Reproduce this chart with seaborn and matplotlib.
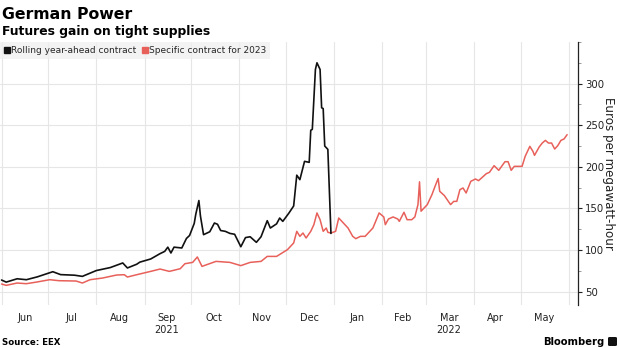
import matplotlib
matplotlib.use("Agg")
import matplotlib.pyplot as plt
import matplotlib.dates as mdates
from matplotlib.ticker import MultipleLocator, NullFormatter
from matplotlib.lines import Line2D
from matplotlib.patches import FancyBboxPatch
import seaborn as sns
import pandas as pd

# ---- data ----
rolling_dates = ["2021-06-01", "2021-06-04", "2021-06-11", "2021-06-17", "2021-06-24",
                 "2021-07-04", "2021-07-09", "2021-07-18", "2021-07-23", "2021-08-01",
                 "2021-08-10", "2021-08-18", "2021-08-21", "2021-08-27", "2021-08-29",
                 "2021-09-05", "2021-09-11", "2021-09-14", "2021-09-16", "2021-09-18",
                 "2021-09-20", "2021-09-25", "2021-09-28", "2021-09-30", "2021-10-03",
                 "2021-10-04", "2021-10-06", "2021-10-07", "2021-10-09", "2021-10-13",
                 "2021-10-16", "2021-10-18", "2021-10-20", "2021-10-23", "2021-10-26",
                 "2021-10-29", "2021-11-02", "2021-11-05", "2021-11-08", "2021-11-12",
                 "2021-11-15", "2021-11-19", "2021-11-21", "2021-11-25", "2021-11-27",
                 "2021-11-29", "2021-12-03", "2021-12-06", "2021-12-08", "2021-12-10",
                 "2021-12-13", "2021-12-16", "2021-12-17", "2021-12-18", "2021-12-20",
                 "2021-12-21", "2021-12-23", "2021-12-24", "2021-12-25", "2021-12-26",
                 "2021-12-28", "2021-12-30"]
rolling_values = [64, 61.5, 65.5, 64.4, 67.8,
                  74, 70.5, 69.8, 68.4, 75.4,
                  79, 84.5, 78.5, 83, 85.5,
                  89.3, 95.7, 98.4, 103.5, 96.5,
                  103.5, 102.5, 114, 117.5, 132,
                  143, 159.5, 141, 118.5, 122,
                  132.5, 131, 123.5, 122.5, 120,
                  119, 104, 115, 116, 109.3,
                  116, 135.3, 126.5, 131.5, 138.5,
                  134.5, 144.6, 153, 190, 184.6,
                  206.6, 205.4, 244, 245, 317,
                  325, 317, 271, 270, 225,
                  221, 120]

c2023_dates = ["2021-06-01", "2021-06-04", "2021-06-11", "2021-06-17", "2021-06-24",
               "2021-07-02", "2021-07-08", "2021-07-19", "2021-07-23", "2021-07-28",
               "2021-08-05", "2021-08-14", "2021-08-19", "2021-08-21", "2021-08-27",
               "2021-09-05", "2021-09-11", "2021-09-17", "2021-09-24", "2021-09-27",
               "2021-10-02", "2021-10-05", "2021-10-08", "2021-10-17", "2021-10-26",
               "2021-11-02", "2021-11-08", "2021-11-15", "2021-11-19", "2021-11-25",
               "2021-12-02", "2021-12-06", "2021-12-08", "2021-12-10", "2021-12-12",
               "2021-12-14", "2021-12-17", "2021-12-19", "2021-12-21", "2021-12-23",
               "2021-12-25", "2021-12-27", "2021-12-28", "2021-12-30", "2022-01-02",
               "2022-01-04", "2022-01-06", "2022-01-10", "2022-01-13", "2022-01-15",
               "2022-01-18", "2022-01-21", "2022-01-26", "2022-01-30", "2022-02-02",
               "2022-02-03", "2022-02-05", "2022-02-08", "2022-02-11", "2022-02-12",
               "2022-02-15", "2022-02-17", "2022-02-20", "2022-02-22", "2022-02-24",
               "2022-02-25", "2022-02-26", "2022-03-02", "2022-03-05", "2022-03-07",
               "2022-03-09", "2022-03-10", "2022-03-13", "2022-03-15", "2022-03-17",
               "2022-03-19", "2022-03-21", "2022-03-23", "2022-03-25", "2022-03-27",
               "2022-03-30", "2022-04-02", "2022-04-04", "2022-04-09", "2022-04-11",
               "2022-04-14", "2022-04-17", "2022-04-21", "2022-04-23", "2022-04-25",
               "2022-04-27", "2022-05-02", "2022-05-04", "2022-05-07", "2022-05-09",
               "2022-05-10", "2022-05-13", "2022-05-15", "2022-05-17", "2022-05-19",
               "2022-05-21", "2022-05-23", "2022-05-25", "2022-05-27", "2022-05-29",
               "2022-05-31"]
c2023_values = [59.2, 57.6, 60.4, 59.6, 61.7,
                64.4, 63.2, 62.8, 60.4, 64.4,
                66.4, 70, 70.4, 67.6, 70.4,
                74.4, 77.2, 74.4, 77.6, 83.6,
                85.2, 91.7, 80.4, 86.4, 85.2,
                81.3, 85.2, 86.4, 92.4, 92.4,
                100.5, 108.5, 122.5, 116.5, 120.5,
                114.5, 122.5, 130.5, 144.6, 136.5,
                122.5, 126.5, 121.3, 120.5, 122.5,
                138.5, 134.5, 126.5, 116.5, 113.7,
                116.5, 116.5, 126.5, 144.6, 139.8,
                130.5, 137.3, 139.8, 137.3, 134.5,
                145.4, 136.5, 136.5, 139.8, 154.6,
                182, 146.7, 154.6, 166.6, 176.6,
                186, 170.6, 165.5, 160, 154.6,
                158.5, 158.5, 172.6, 174.6, 168.6,
                182.6, 185.4, 183.4, 191.8, 193.4,
                201.4, 195.8, 206.2, 206.2, 195.8,
                200.6, 200.6, 212.6, 224.6, 218.6,
                213.8, 223.8, 228.6, 231.8, 228.6,
                228.6, 221.4, 225.5, 231.8, 233.5,
                238.7]

series_names = ["Rolling year-ahead contract", "Specific contract for 2023"]
month_label_dates = ["2021-06-16", "2021-07-16", "2021-08-16", "2021-09-15", "2021-10-16",
                     "2021-11-15", "2021-12-16", "2022-01-16", "2022-02-14", "2022-03-16",
                     "2022-04-15", "2022-05-16"]
month_labels = ["Jun", "Jul", "Aug", "Sep\n2021", "Oct", "Nov", "Dec", "Jan", "Feb",
                "Mar\n2022", "Apr", "May"]
y_ticks = [50, 100, 150, 200, 250, 300]

BLACK = "#111111"
RED = "#e8605a"
GRID = "#e6e6e6"

sns.set_theme(style="white")
plt.rcParams["font.family"] = ["DejaVu Sans"]

fig = plt.figure(figsize=(6.2, 3.48), dpi=100)
ax = fig.add_axes([0.0, 1 - 305 / 348, 578 / 620, (305 - 42) / 348])

df_roll = pd.DataFrame({"date": pd.to_datetime(rolling_dates), "value": rolling_values})
df_2023 = pd.DataFrame({"date": pd.to_datetime(c2023_dates), "value": c2023_values})

sns.lineplot(data=df_2023, x="date", y="value", ax=ax, color=RED, linewidth=1.1, zorder=3)
sns.lineplot(data=df_roll, x="date", y="value", ax=ax, color=BLACK, linewidth=1.2, zorder=4)

ax.set_xlim(pd.Timestamp("2021-05-31"), pd.Timestamp("2022-06-07"))
ax.set_ylim(34, 350)

# x axis: gridlines at month starts, labels mid-month
ax.xaxis.set_major_locator(mdates.MonthLocator())
ax.xaxis.set_major_formatter(NullFormatter())
ax.set_xticks(pd.to_datetime(month_label_dates), minor=True)
ax.set_xticklabels(month_labels, minor=True, fontsize=7, color="#222222")
ax.tick_params(axis="x", which="both", length=0, pad=6)
ax.set_xlabel("")

# y axis on the right
ax.yaxis.tick_right()
ax.yaxis.set_label_position("right")
ax.set_yticks(y_ticks)
ax.set_yticklabels([str(v) for v in y_ticks], fontsize=7.3, color="#222222")
ax.yaxis.set_minor_locator(MultipleLocator(25))
ax.tick_params(axis="y", which="major", length=3, width=0.8, color="#222222", pad=2,
               right=True, left=False)
ax.tick_params(axis="y", which="minor", length=2, width=0.6, color="#888888",
               right=True, left=False)
ax.set_ylabel("Euros per megawatt-hour", rotation=270, fontsize=8.6, labelpad=8,
              color="#222222")

ax.grid(axis="x", which="major", color=GRID, linewidth=0.8)
ax.grid(axis="y", which="major", color=GRID, linewidth=0.8)
ax.set_axisbelow(True)
for side in ["left", "top", "bottom"]:
    ax.spines[side].set_visible(False)
ax.spines["right"].set_color("#222222")
ax.spines["right"].set_linewidth(0.9)

# legend
handles = [Line2D([], [], marker="s", linestyle="none", color=BLACK, markersize=5),
           Line2D([], [], marker="s", linestyle="none", color=RED, markersize=5)]
leg = ax.legend(handles, series_names, loc="upper left", bbox_to_anchor=(0, 1),
                borderaxespad=0, ncol=2, frameon=True, fancybox=False,
                fontsize=6.5, handlelength=0.6, handletextpad=0.2, columnspacing=0.6,
                borderpad=0.45)
leg.get_frame().set_facecolor("#f0f0f0")
leg.get_frame().set_edgecolor("none")

# titles and footer
fig.text(0.003, 1 - 19 / 348, "German Power", fontsize=11.3, fontweight="bold",
         color="#000000", ha="left", va="baseline")
fig.text(0.003, 1 - 35 / 348, "Futures gain on tight supplies", fontsize=8.9,
         fontweight="bold", color="#000000", ha="left", va="baseline")
fig.text(0.003, 1 - 345 / 348, "Source: EEX", fontsize=6.2, fontweight="bold",
         color="#000000", ha="left", va="baseline")
fig.text(604 / 620, 1 - 345 / 348, "Bloomberg", fontsize=7.2, fontweight="bold",
         color="#000000", ha="right", va="baseline")
icon = FancyBboxPatch((608 / 620, 1 - 346 / 348), 9 / 620, 9 / 348,
                      boxstyle="round,pad=0,rounding_size=0.003",
                      transform=fig.transFigure, facecolor="#111111", edgecolor="none")
fig.patches.append(icon)

fig.savefig("out.png", dpi=100)
